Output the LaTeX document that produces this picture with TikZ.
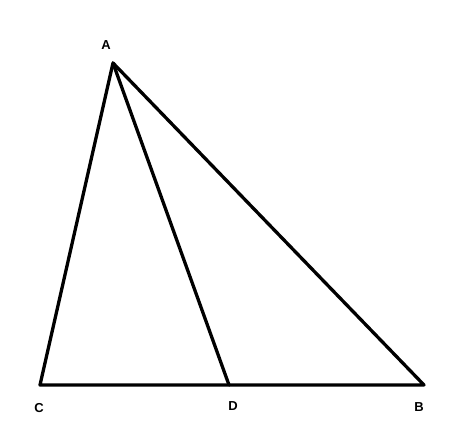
\documentclass[tikz,border=0pt]{standalone}
\usepackage{fontspec}
\setmainfont{Liberation Sans}
\begin{document}
\begin{tikzpicture}[x=1pt,y=-1pt,
  edge/.style={line width=3.3pt,line cap=round,line join=round},
  lbl/.style={font=\bfseries\fontsize{13}{13}\selectfont,inner sep=0pt}]
\useasboundingbox (0,0) rectangle (453,440);
\coordinate (A) at (113,63);
\coordinate (C) at (40,385);
\coordinate (D) at (229,385);
\coordinate (B) at (424,385);
\draw[edge] (C) -- (A) -- (B) -- cycle;
\draw[edge] (A) -- (D);
\node[lbl] (la) at (106,45) {A};
\node[lbl] (lc) at (39,408) {C};
\node[lbl] (ld) at (233,406) {D};
\node[lbl] (lb) at (419,407) {B};
\end{tikzpicture}
\end{document}
